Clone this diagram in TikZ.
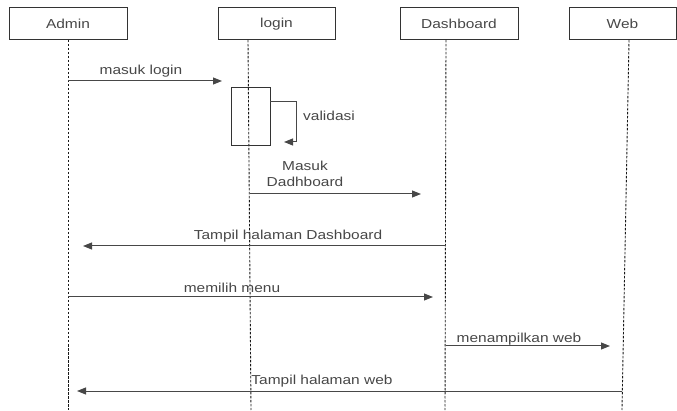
\documentclass[tikz,border=0pt]{standalone}
\usepackage{fontspec}
\setmainfont[FakeStretch=1.19]{Liberation Sans}
\usetikzlibrary{arrows.meta}
\begin{document}
\begin{tikzpicture}[x=1pt,y=-1pt,
 actor/.style={draw=black!80, line width=1pt, minimum height=32pt, inner sep=0pt, font=\fontsize{13}{15}\selectfont, text=black!72},
 life/.style={dash pattern=on 2.5pt off 1.5pt, line width=0.9pt, black!90},
 msg/.style={line width=1pt, black!72, -{Triangle[length=9pt,width=7pt]}},
 lbl/.style={font=\fontsize{13}{16}\selectfont, text=black!72, inner sep=1pt}]
\useasboundingbox (0,0) rectangle (677,411);
% actors
\node[actor, minimum width=118pt] (admin) at (68,24) {Admin};
\node[actor, minimum width=117pt] (login) at (276.5,24) {login};
\node[actor, minimum width=118pt] (dash) at (459,24) {Dashboard};
\node[actor, minimum width=107pt] (web) at (622.5,24) {Web};
% lifelines
\coordinate (la0) at (68,40);  \coordinate (la1) at (68,410);
\coordinate (ll0) at (248,40); \coordinate (ll1) at (251,410);
\coordinate (ld0) at (446,40); \coordinate (ld1) at (445,410);
\coordinate (lw0) at (629,40); \coordinate (lw1) at (622,410);
\draw[life] (la0) -- (la1);
\draw[life] (ll0) -- (ll1);
\draw[life] (ld0) -- (ld1);
\draw[life] (lw0) -- (lw1);
% activation
\node[draw=black!80, line width=1pt, minimum width=39pt, minimum height=58pt, inner sep=0pt] (act) at (250.5,117) {};
% message endpoints
\coordinate (m1a) at (68,81);   \coordinate (m1b) at (222,81);
\coordinate (s0) at (270,102);  \coordinate (s1) at (296,102); \coordinate (s2) at (296,142); \coordinate (s3) at (284,142);
\coordinate (m2a) at (250,194); \coordinate (m2b) at (421,194);
\coordinate (m3a) at (446,246); \coordinate (m3b) at (83,246);
\coordinate (m4a) at (68,297);  \coordinate (m4b) at (433,297);
\coordinate (m5a) at (446,346); \coordinate (m5b) at (610,346);
\coordinate (m6a) at (622,391); \coordinate (m6b) at (77,391);
% messages
\draw[msg] (m1a) -- (m1b);
\draw[msg] (s0) -- (s1) -- (s2) -- (s3);
\draw[msg] (m2a) -- (m2b);
\draw[msg] (m3a) -- (m3b);
\draw[msg] (m4a) -- (m4b);
\draw[msg] (m5a) -- (m5b);
\draw[msg] (m6a) -- (m6b);
% labels
\node[lbl] (t1) at (141,71) {masuk login};
\node[lbl] (t2) at (329,116) {validasi};
\node[lbl, align=center] (t3) at (305,174) {Masuk\\Dadhboard};
\node[lbl] (t4) at (288,236) {Tampil halaman Dashboard};
\node[lbl] (t5) at (232,288) {memilih menu};
\node[lbl] (t6) at (519,339) {menampilkan web};
\node[lbl] (t7) at (322,381) {Tampil halaman web};
\end{tikzpicture}
\end{document}
